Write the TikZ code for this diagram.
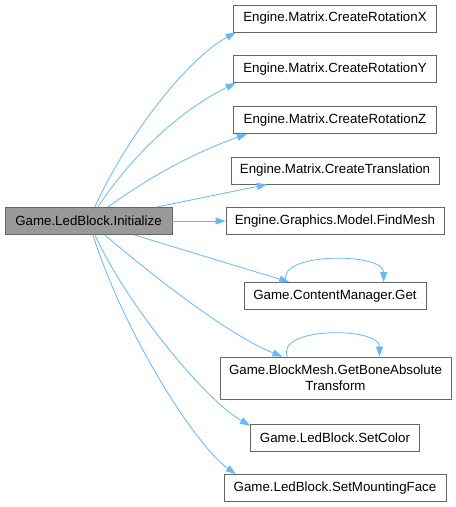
\documentclass[tikz,border=0pt]{standalone}
\usepackage{fontspec}
\setmainfont{Liberation Sans}
\usetikzlibrary{arrows.meta}
\definecolor{edgeblue}{HTML}{63B8FF}
\definecolor{boxgray}{HTML}{666666}
\definecolor{fillgray}{HTML}{999999}

\begin{document}
\begin{tikzpicture}[x=1pt,y=-1pt,
    func/.style={draw=boxgray, line width=0.9pt, fill=white, minimum height=27pt,
        inner sep=0pt, font=\fontsize{13.3}{16}\selectfont},
    caller/.style={func, fill=fillgray},
    call/.style={draw=edgeblue, line width=0.8pt, -{Triangle[length=10pt,width=7pt]}}]
    \useasboundingbox (0,0) rectangle (456,507);

    % 呼び出し元
    \node[caller, minimum width=167pt] (init) at (88.5,221) {Game.LedBlock.Initialize};

    % 呼び出し先（1行のノード）
    \foreach \nm/\cy/\bw/\txt in {
        rotx/18.5/203/Engine.Matrix.CreateRotationX,
        roty/69/203/Engine.Matrix.CreateRotationY,
        rotz/120/203/Engine.Matrix.CreateRotationZ,
        trans/170.5/208/Engine.Matrix.CreateTranslation,
        mesh/221/218/Engine.Graphics.Model.FindMesh,
        get/296/182/Game.ContentManager.Get,
        color/437.5/169/Game.LedBlock.SetColor,
        face/488/222/Game.LedBlock.SetMountingFace} {
        \node[func, minimum width=\bw pt] (\nm) at (335,\cy) {\txt};
    }
    % 2行のノード
    \node[func, minimum width=231pt, minimum height=42pt, align=center] (bone) at (335.5,378)
        {Game.BlockMesh.GetBoneAbsolute\\Transform};

    % 呼び出しの矢印
    \draw[call] (init) .. controls (125,140) and (185,60) .. (rotx.188);
    \draw[call] (init) .. controls (142,141) and (193,104) .. (roty.188);
    \draw[call] (init) .. controls (166,165) and (213,146) .. (rotz.189);
    \draw[call] (init) -- (trans);
    \draw[call] (init) -- (mesh);
    \draw[call] (init) -- (get);
    \draw[call] (init) .. controls (154,277) and (230,336) .. (bone.158);
    \draw[call] (init) .. controls (127,305) and (205,400) .. (color.172);
    \draw[call] (init) .. controls (124,333) and (195,445) .. (face.172);

    % 再帰呼び出し
    \draw[call] (get.164) .. controls +(-12,-30) and +(0,-30) .. (get.16);
    \draw[call] (bone.156) .. controls +(-12,-30) and +(0,-30) .. (bone.26);
    %
\end{tikzpicture}
\end{document}
